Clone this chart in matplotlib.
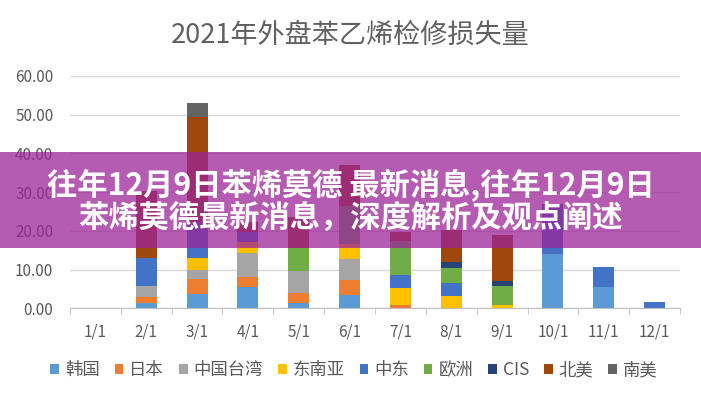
import numpy as np
import matplotlib
matplotlib.use('Agg')
import matplotlib.pyplot as plt
from matplotlib.patches import Rectangle, Patch

plt.rcParams['font.family'] = ['Noto Sans CJK SC', 'DejaVu Sans']

# Data
months = ['1/1', '2/1', '3/1', '4/1', '5/1', '6/1', '7/1', '8/1', '9/1', '10/1', '11/1', '12/1']
regions = ['韩国', '日本', '中国台湾', '东南亚', '中东', '欧洲', 'CIS', '北美', '南美']
korea = [0, 1.3, 3.8, 5.6, 1.3, 3.4, 0, 0, 0, 14.0, 5.4, 0]
japan = [0, 1.7, 3.7, 2.6, 2.7, 3.9, 0.8, 0, 0, 0, 0, 0]
taiwan = [0, 2.7, 2.4, 6.2, 5.7, 5.4, 0, 0, 0, 0, 0, 0]
se_asia = [0, 0, 3.0, 2.8, 0, 3.9, 4.4, 3.2, 0.8, 0, 0, 0]
mideast = [0, 7.2, 9.5, 2.6, 0, 0, 3.4, 3.3, 0, 13.0, 5.2, 1.7]
europe = [0, 0, 0, 0, 5.8, 9.7, 8.7, 3.8, 5.0, 0, 0, 0]
cis = [0, 0, 0, 0, 0, 0, 0, 1.7, 1.2, 0, 0, 0]
n_america = [0, 17.3, 27.1, 2.5, 8.0, 10.7, 2.5, 8.2, 12.0, 0, 0, 0]
s_america = [0, 0, 3.4, 0, 0, 0, 0, 0, 0, 0, 0, 0]
series = [korea, japan, taiwan, se_asia, mideast, europe, cis, n_america, s_america]
colors = ['#5b9bd5', '#ed7d31', '#a5a5a5', '#ffc000', '#4472c4',
          '#70ad47', '#264478', '#9e480e', '#636363']

grey = '#595959'

fig = plt.figure(figsize=(7.01, 4.0), dpi=100)
ax = fig.add_axes([70 / 701, (400 - 308.3) / 400, 610 / 701, 232.3 / 400])

x = np.arange(len(months))
bottom = np.zeros(len(months))
for vals, c, name in zip(series, colors, regions):
    ax.bar(x, vals, width=0.41, bottom=bottom, color=c, label=name, zorder=3)
    bottom += np.array(vals)

ax.set_xlim(-0.5, len(months) - 0.5)
ax.set_ylim(0, 60)
ax.set_yticks(np.arange(0, 61, 10))
ax.set_yticklabels([f'{v:.2f}' for v in np.arange(0, 61, 10)])
ax.set_xticks(x)
ax.set_xticklabels(months)
ax.set_xticks(np.arange(-0.5, len(months), 1), minor=True)
ax.tick_params(axis='y', length=0, pad=12, labelsize=11, labelcolor=grey)
ax.tick_params(axis='x', which='major', length=0, pad=11, labelsize=11, labelcolor=grey)
ax.tick_params(axis='x', which='minor', length=4, color='#bfbfbf', direction='out')
ax.grid(axis='y', color='#d9d9d9', linewidth=1, zorder=0)
for s in ['top', 'right', 'left']:
    ax.spines[s].set_visible(False)
ax.spines['bottom'].set_color('#bfbfbf')
ax.spines['bottom'].set_zorder(4)

fig.text(0.5, (400 - 35) / 400, '2021年外盘苯乙烯检修损失量', ha='center', va='center',
         fontsize=19.5, color='#606060')

handles = [Patch(facecolor=c, label=n) for c, n in zip(colors, regions)]
fig.legend(handles=handles, loc='center', bbox_to_anchor=(0.505, (400 - 370) / 400),
           ncol=9, frameon=False, fontsize=12.5, handlelength=0.5, handleheight=0.5,
           handletextpad=0.35, columnspacing=0.85, labelcolor=grey)

# purple banner over the chart
fig.patches.append(Rectangle((0, (400 - 248.3) / 400), 1, 96.6 / 400, transform=fig.transFigure,
                             facecolor=(0.61, 0.14, 0.60), alpha=0.75, zorder=10))
fig.text(0.5, (400 - 185) / 400, '往年12月9日苯烯莫德 最新消息,往年12月9日', ha='center', va='center',
         fontsize=21.8, fontweight='bold', color='white', zorder=11)
fig.text(0.5, (400 - 218) / 400, '苯烯莫德最新消息，深度解析及观点阐述', ha='center', va='center',
         fontsize=21.8, fontweight='bold', color='white', zorder=11)

fig.savefig('out.png', dpi=100)
